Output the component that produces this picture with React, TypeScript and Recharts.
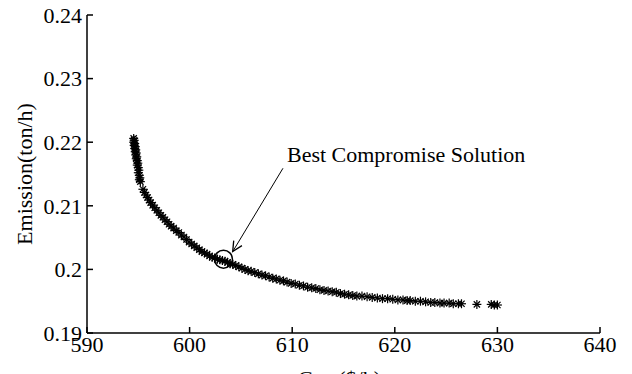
import React from "react";
import {
  ScatterChart, Scatter, XAxis, YAxis, ReferenceDot, ReferenceLine,
} from "recharts";

const INK = "#000000";
const FONT = "'Liberation Serif', 'Times New Roman', serif";

// Pareto front
const cost = [
  594.55, 594.6, 594.55, 594.65, 594.6, 594.7, 594.65, 594.75, 594.7, 594.8,
  594.75, 594.85, 594.8, 594.9, 594.95, 594.9, 595.0, 595.05, 595.0, 595.1,
  595.15, 595.1, 595.2, 595.45, 595.6, 595.75, 595.9, 596.05, 596.2, 596.4,
  596.6, 596.8, 597.0, 597.2, 597.4, 597.6, 597.8, 598.0, 598.2, 598.45,
  598.7, 598.95, 599.2, 599.45, 599.7, 599.95, 600.2, 600.45, 600.7, 600.95,
  601.2, 601.45, 601.7, 601.95, 602.2, 602.45, 602.7, 602.95, 603.2, 603.45,
  603.7, 603.95, 604.2, 604.5, 604.8, 605.1, 605.4, 605.7, 606.0, 606.35,
  606.7, 607.05, 607.4, 607.75, 608.1, 608.45, 608.8, 609.15, 609.5, 609.9,
  610.3, 610.7, 611.1, 611.5, 611.9, 612.3, 612.7, 613.1, 613.5, 613.9,
  614.3, 614.7, 615.1, 615.5, 615.9, 616.3, 616.8, 617.3, 617.8, 618.3,
  618.8, 619.3, 619.8, 620.3, 620.8, 621.2, 621.5, 622.0, 622.5, 623.0,
  623.5, 623.9, 624.4, 624.8, 625.3, 625.7, 626.2, 626.5, 628.0, 629.4,
  629.7, 630.0,
];
const emission = [
  0.2206, 0.2203, 0.2200, 0.2198, 0.2195, 0.2193, 0.2190, 0.2188, 0.2185, 0.2183,
  0.2180, 0.2177, 0.2174, 0.2171, 0.2167, 0.2164, 0.2160, 0.2156, 0.2152, 0.2148,
  0.2144, 0.2141, 0.2138, 0.2126, 0.2121, 0.2117, 0.2113, 0.2109, 0.2105, 0.2101,
  0.2097, 0.2093, 0.2089, 0.2085, 0.2082, 0.2078, 0.2075, 0.2071, 0.2068, 0.2065,
  0.2061, 0.2058, 0.2054, 0.2051, 0.2047, 0.2043, 0.2040, 0.2037, 0.2034, 0.2031,
  0.2028, 0.2026, 0.2024, 0.2021, 0.2019, 0.2018, 0.2016, 0.2015, 0.2014, 0.2013,
  0.2011, 0.2009, 0.2008, 0.2006, 0.2004, 0.2002, 0.2000, 0.1998, 0.1997, 0.1995,
  0.1993, 0.1991, 0.1990, 0.1988, 0.1986, 0.1985, 0.1983, 0.1982, 0.1980, 0.1978,
  0.1977, 0.1975, 0.1974, 0.1972, 0.1971, 0.1970, 0.1968, 0.1967, 0.1966, 0.1965,
  0.1964, 0.1962, 0.1961, 0.1960, 0.1959, 0.1958, 0.1958, 0.1957, 0.1956, 0.1955,
  0.1954, 0.1954, 0.1953, 0.1952, 0.1952, 0.1951, 0.1951, 0.1950, 0.1950, 0.1949,
  0.1948, 0.1948, 0.1947, 0.1947, 0.1947, 0.1946, 0.1946, 0.1946, 0.1945, 0.1945,
  0.1944, 0.1944,
];

const xTicks = [590, 600, 610, 620, 630, 640];
const yTicks = [0.19, 0.2, 0.21, 0.22, 0.23, 0.24];

// best compromise solution + where the annotation arrow starts
const best = { cost: 603.3, emission: 0.2016 };
const arrowFrom = { cost: 609.1, emission: 0.2159 };
const arrowTo = { cost: 604.2, emission: 0.2028 };
const bestLabel = "Best Compromise Solution";

const data = cost.map((c, i) => ({ cost: c, emission: emission[i] }));

/* MATLAB-style '*' marker */
function Asterisk({ cx, cy }: any) {
  const r = 4.5;
  const d = r * 0.7;
  return (
    <g stroke={INK} strokeWidth={1.2}>
      <line x1={cx - r} y1={cy} x2={cx + r} y2={cy} />
      <line x1={cx} y1={cy - r} x2={cx} y2={cy + r} />
      <line x1={cx - d} y1={cy - d} x2={cx + d} y2={cy + d} />
      <line x1={cx - d} y1={cy + d} x2={cx + d} y2={cy - d} />
    </g>
  );
}

function ArrowShape(props: any) {
  const { x1, y1, x2, y2 } = props;
  const ang = Math.atan2(y2 - y1, x2 - x1);
  const len = 11;
  const spread = 0.45;
  const ax = x2 - len * Math.cos(ang - spread);
  const ay = y2 - len * Math.sin(ang - spread);
  const bx = x2 - len * Math.cos(ang + spread);
  const by = y2 - len * Math.sin(ang + spread);
  return (
    <g>
      <line x1={x1} y1={y1} x2={x2} y2={y2} stroke={INK} strokeWidth={1} />
      <polyline points={`${ax},${ay} ${x2},${y2} ${bx},${by}`} fill="none" stroke={INK} strokeWidth={1.3} />
      <text x={x1 + 4} y={y1 - 6} fontFamily={FONT} fontSize={22} fill={INK}>{bestLabel}</text>
    </g>
  );
}

function YLabel({ viewBox }: any) {
  const cx = viewBox.x + 24;
  const cy = viewBox.y + viewBox.height / 2;
  return (
    <text x={cx} y={cy} transform={`rotate(-90 ${cx} ${cy})`} textAnchor="middle"
          dominantBaseline="central" fontFamily={FONT} fontSize={22} fill={INK}>
      Emission(ton/h)
    </text>
  );
}

function XLabel({ viewBox }: any) {
  const cx = viewBox.x + viewBox.width / 2;
  return (
    <text x={cx - 4} y={viewBox.y + 53} textAnchor="middle" fontFamily={FONT} fontSize={22} fill={INK}>
      Cost($/h)
    </text>
  );
}

export default function App() {
  const tick = { fontSize: 22, fill: INK, fontFamily: FONT };
  return (
    <div style={{ position: "absolute", left: 0, top: 0, width: 632, height: 374, background: "#fff" }}>
      <ScatterChart width={632} height={374} margin={{ top: 15, right: 32, left: 0, bottom: 0 }}>
        <XAxis
          type="number" dataKey="cost" domain={[590, 640]} ticks={xTicks}
          height={41} tickSize={-6} tickMargin={9} tick={tick}
          axisLine={{ stroke: INK, strokeWidth: 1.5 }} tickLine={{ stroke: INK, strokeWidth: 1.5 }}
          allowDataOverflow label={<XLabel />}
        />
        <YAxis
          type="number" dataKey="emission" domain={[0.19, 0.24]} ticks={yTicks}
          width={87} tickSize={-6} tickMargin={11} tick={tick}
          tickFormatter={(v) => String(v)}
          axisLine={{ stroke: INK, strokeWidth: 1.5 }} tickLine={{ stroke: INK, strokeWidth: 1.5 }}
          allowDataOverflow label={<YLabel />}
        />
        <Scatter data={data} shape={<Asterisk />} isAnimationActive={false} />
        <ReferenceLine
          segment={[{ x: arrowFrom.cost, y: arrowFrom.emission }, { x: arrowTo.cost, y: arrowTo.emission }]}
          shape={<ArrowShape />}
        />
        <ReferenceDot x={best.cost} y={best.emission} r={9} fill="none" stroke={INK} strokeWidth={1.5} />
      </ScatterChart>
    </div>
  );
}
